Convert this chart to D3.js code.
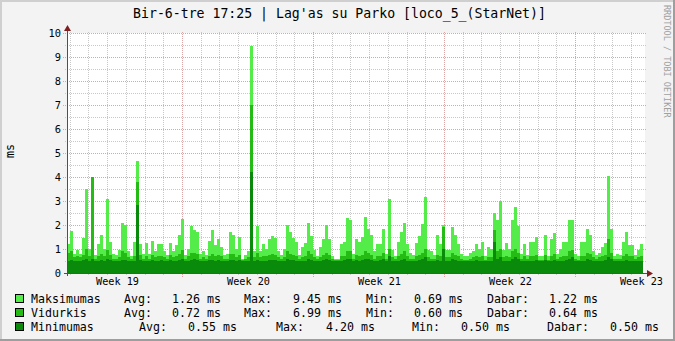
<!DOCTYPE html>
<html>
<head>
<meta charset="utf-8">
<script src="https://cdn.jsdelivr.net/npm/d3@7"></script>
<style>
  body { margin: 0; background: #fff; }
  svg { display: block; }
</style>
</head>
<body>
<div id="chart"></div>
<script>
const title = "Bir-6-tre 17:25 | Lag'as su Parko [loco_5_(StarNet)]"
const yLabel = 'ms'
const watermark = 'RRDTOOL / TOBI OETIKER'
const yTicks = [0, 1, 2, 3, 4, 5, 6, 7, 8, 9, 10]
const weekStarts = ['2012-05-06', '2012-05-13', '2012-05-20', '2012-05-27', '2012-06-03']
const weekLabels = ['Week 19', 'Week 20', 'Week 21', 'Week 22', 'Week 23']
const timeStart = '2012-05-06T20:30:00Z'
const timeEnd = '2012-06-06T15:15:00Z'

const seriesNames = ['Maksimumas', 'Vidurkis', 'Minimumas']
const seriesColors = ['#54ec48', '#24bc14', '#0a8a0a']

// ms, one value per step
const maxValues = [
  1.2, 1.75, 0.8, 0.95, 0.8, 1.45, 3.5, 1.0, 4.0, 0.75, 1.2, 1.6, 1.0, 3.1, 1.3, 0.8,
  0.75, 0.95, 2.1, 2.0, 0.9, 0.7, 1.3, 4.65, 1.2, 0.8, 1.25, 0.8, 1.35, 0.9, 1.2, 1.2,
  0.9, 0.75, 1.25, 0.9, 1.15, 1.6, 2.25, 0.75, 1.0, 1.95, 1.8, 1.7, 0.8, 0.9, 0.75, 1.35,
  1.8, 1.15, 1.4, 1.1, 0.75, 0.8, 1.7, 1.6, 1.0, 1.5, 0.6, 0.75, 0.9, 9.45, 0.9, 1.95,
  0.9, 1.2, 1.0, 1.4, 1.55, 1.45, 0.9, 0.75, 1.0, 2.0, 1.7, 1.45, 1.3, 0.75, 1.1, 1.25,
  2.1, 1.55, 0.95, 0.7, 1.1, 1.4, 2.0, 1.4, 0.7, 0.6, 0.6, 1.2, 1.3, 2.3, 2.2, 0.8,
  1.4, 1.3, 1.5, 2.35, 1.85, 1.6, 0.9, 1.2, 1.2, 1.85, 0.8, 3.1, 0.95, 0.7, 1.3, 1.7,
  2.1, 1.2, 0.85, 0.75, 1.25, 1.55, 2.05, 3.15, 0.95, 0.9, 0.75, 1.6, 1.2, 2.0, 0.95, 0.95,
  1.9, 1.6, 1.2, 0.8, 0.7, 0.7, 0.85, 0.9, 1.2, 1.0, 1.3, 0.7, 1.1, 1.0, 2.5, 2.2,
  3.0, 0.95, 1.25, 1.0, 2.2, 2.75, 1.95, 0.8, 1.2, 0.75, 1.3, 1.3, 1.5, 0.7, 0.7, 1.6,
  0.7, 1.4, 1.65, 0.8, 1.0, 1.3, 1.3, 2.2, 2.2, 0.8, 0.7, 1.3, 1.3, 1.85, 1.6, 0.9,
  0.75, 0.85, 1.1, 1.25, 4.05, 1.85, 0.7, 0.8, 0.75, 1.3, 1.7, 1.15, 1.15, 0.75, 0.95, 1.2
]
const avgValues = [
  0.85, 0.9, 0.65, 0.7, 0.65, 0.75, 1.0, 0.7, 4.0, 0.6, 0.7, 0.8, 0.7, 0.95, 0.75, 0.6,
  0.6, 0.65, 0.9, 0.85, 0.65, 0.6, 0.7, 3.8, 0.75, 0.6, 0.7, 0.6, 0.75, 0.65, 0.7, 0.7,
  0.65, 0.6, 0.75, 0.65, 0.7, 0.8, 0.95, 0.6, 0.7, 0.85, 0.85, 0.8, 0.6, 0.65, 0.6, 0.7,
  0.8, 0.7, 0.75, 0.7, 0.6, 0.6, 0.8, 0.8, 0.65, 0.75, 0.55, 0.6, 0.65, 6.99, 0.65, 0.85,
  0.65, 0.7, 0.7, 0.75, 0.8, 0.75, 0.65, 0.6, 0.65, 0.9, 0.8, 0.75, 0.7, 0.6, 0.65, 0.7,
  0.9, 0.8, 0.65, 0.6, 0.65, 0.75, 0.85, 0.75, 0.6, 0.55, 0.55, 0.7, 0.7, 0.9, 0.9, 0.6,
  0.75, 0.7, 0.75, 0.9, 0.85, 0.75, 0.6, 0.7, 0.7, 0.85, 0.6, 1.0, 0.65, 0.6, 0.7, 0.8,
  0.9, 0.7, 0.6, 0.6, 0.7, 0.75, 0.85, 1.0, 0.65, 0.6, 0.6, 0.75, 0.7, 1.9, 0.65, 0.65,
  0.85, 0.75, 0.7, 0.6, 0.55, 0.55, 0.6, 0.65, 0.7, 0.65, 0.7, 0.55, 0.65, 0.65, 1.8, 0.9,
  1.0, 0.65, 0.7, 0.65, 0.9, 1.0, 0.85, 0.6, 0.7, 0.6, 0.7, 0.7, 0.75, 0.55, 0.55, 0.75,
  0.55, 0.7, 0.8, 0.6, 0.65, 0.7, 0.7, 0.9, 0.95, 0.6, 0.55, 0.7, 0.7, 0.85, 0.8, 0.65,
  0.6, 0.65, 0.7, 0.75, 1.4, 0.85, 0.6, 0.6, 0.6, 0.7, 0.8, 0.7, 0.7, 0.6, 0.65, 0.7
]
const minValues = [
  0.5, 0.55, 0.5, 0.5, 0.5, 0.55, 0.6, 0.5, 0.6, 0.5, 0.5, 0.55, 0.5, 0.6, 0.55, 0.5,
  0.5, 0.5, 0.55, 0.55, 0.5, 0.5, 0.5, 2.85, 0.55, 0.5, 0.5, 0.5, 0.55, 0.5, 0.5, 0.55,
  0.5, 0.5, 0.55, 0.5, 0.5, 0.55, 0.6, 0.5, 0.5, 0.55, 0.6, 0.55, 0.5, 0.5, 0.5, 0.55,
  0.55, 0.5, 0.55, 0.5, 0.5, 0.5, 0.55, 0.55, 0.5, 0.55, 0.5, 0.5, 0.5, 4.2, 0.5, 0.55,
  0.5, 0.5, 0.5, 0.55, 0.55, 0.55, 0.5, 0.5, 0.5, 0.6, 0.55, 0.55, 0.5, 0.5, 0.5, 0.5,
  0.6, 0.55, 0.5, 0.5, 0.5, 0.55, 0.6, 0.55, 0.5, 0.5, 0.5, 0.5, 0.55, 0.6, 0.6, 0.5,
  0.55, 0.5, 0.55, 0.6, 0.6, 0.55, 0.5, 0.5, 0.55, 0.6, 0.5, 0.7, 0.5, 0.5, 0.5, 0.55,
  0.6, 0.5, 0.5, 0.5, 0.5, 0.55, 0.6, 0.65, 0.5, 0.5, 0.5, 0.55, 0.5, 1.0, 0.5, 0.5,
  0.6, 0.55, 0.5, 0.5, 0.5, 0.5, 0.5, 0.5, 0.55, 0.5, 0.5, 0.5, 0.5, 0.5, 1.3, 0.6,
  0.65, 0.5, 0.5, 0.5, 0.6, 0.65, 0.6, 0.5, 0.5, 0.5, 0.5, 0.5, 0.55, 0.5, 0.5, 0.55,
  0.5, 0.5, 0.55, 0.5, 0.5, 0.5, 0.55, 0.6, 0.65, 0.5, 0.5, 0.5, 0.5, 0.6, 0.55, 0.5,
  0.5, 0.5, 0.5, 0.55, 0.65, 0.6, 0.5, 0.5, 0.5, 0.5, 0.55, 0.5, 0.5, 0.5, 0.5, 0.5
]

// legend: Avg, Max, Min, Dabar per series (ms)
const legendAvg = ['1.26', '0.72', '0.55']
const legendMax = ['9.45', '6.99', '4.20']
const legendMin = ['0.69', '0.60', '0.50']
const legendNow = ['1.22', '0.64', '0.50']

const W = 675, H = 341
const plot = { left: 67, right: 643, top: 33, bottom: 273 }
const mono = 'DejaVu Sans Mono, monospace'

const svg = d3.select('#chart').append('svg')
  .attr('width', W)
  .attr('height', H)

// canvas with rrd-style shade
svg.append('rect').attr('width', W).attr('height', H).attr('fill', '#f3f3f3')
svg.append('path').attr('d', `M0,0H${W}V2H2V${H}H0Z`).attr('fill', '#cfcfcf')
svg.append('path').attr('d', `M${W},${H}H0V${H - 2}H${W - 2}V0H${W}Z`).attr('fill', '#9e9e9e')

svg.append('rect')
  .attr('x', plot.left).attr('y', plot.top)
  .attr('width', 645 - plot.left).attr('height', plot.bottom - plot.top)
  .attr('fill', '#ffffff')

const x = d3.scaleUtc()
  .domain([new Date(timeStart), new Date(timeEnd)])
  .range([plot.left, plot.right])
const y = d3.scaleLinear().domain([0, 10]).range([plot.bottom, plot.top])

// grid, under the data
const grid = svg.append('g').attr('shape-rendering', 'crispEdges').attr('stroke-dasharray', '1,1')
const halfTicks = d3.range(0.5, 10, 1)
grid.selectAll('line.hmin').data(halfTicks).join('line')
  .attr('x1', plot.left - 2).attr('x2', 646)
  .attr('y1', d => Math.round(y(d)) + 0.5).attr('y2', d => Math.round(y(d)) + 0.5)
  .attr('stroke', '#c8c8c8')
grid.selectAll('line.hmaj').data(yTicks.filter(d => d > 0)).join('line')
  .attr('x1', plot.left - 4).attr('x2', 646)
  .attr('y1', d => Math.round(y(d)) + 0.5).attr('y2', d => Math.round(y(d)) + 0.5)
  .attr('stroke', '#dca4a4')

const sundays = d3.utcSunday.range(x.domain()[0], x.domain()[1])
const days = d3.utcDay.range(x.domain()[0], x.domain()[1]).filter(d => d.getUTCDay() !== 0)
grid.selectAll('line.vmin').data(days).join('line')
  .attr('x1', d => Math.round(x(d)) + 0.5).attr('x2', d => Math.round(x(d)) + 0.5)
  .attr('y1', plot.top - 1).attr('y2', plot.bottom + 2)
  .attr('stroke', '#c8c8c8')
grid.selectAll('line.vmaj').data(sundays).join('line')
  .attr('x1', d => Math.round(x(d)) + 0.5).attr('x2', d => Math.round(x(d)) + 0.5)
  .attr('y1', plot.top - 1).attr('y2', plot.bottom + 4)
  .attr('stroke', '#dca4a4')

const n = maxValues.length
const t0 = +x.domain()[0], t1 = +x.domain()[1]
const stepTime = i => new Date(t0 + i * (t1 - t0) / n)

const area = d3.area()
  .curve(d3.curveStepAfter)
  .x((d, i) => x(stepTime(i)))
  .y0(y(0))
  .y1(d => y(d))

const g = svg.append('g').attr('shape-rendering', 'crispEdges')
;[maxValues, avgValues, minValues].forEach((vals, k) => {
  g.append('path')
    .attr('d', area(vals.concat([vals[vals.length - 1]])))
    .attr('fill', seriesColors[k])
})

// axes
const axis = svg.append('g').attr('shape-rendering', 'crispEdges')
axis.append('line')
  .attr('x1', plot.left - 3).attr('x2', 648)
  .attr('y1', plot.bottom + 0.5).attr('y2', plot.bottom + 0.5)
  .attr('stroke', '#505050')
axis.append('line')
  .attr('x1', plot.left + 0.5).attr('x2', plot.left + 0.5)
  .attr('y1', plot.bottom + 3).attr('y2', 29)
  .attr('stroke', '#505050')
svg.append('path')
  .attr('d', `M${plot.left + 0.5},25L${plot.left + 4},31H${plot.left - 3}Z`)
  .attr('fill', '#7f1f1f')
svg.append('path')
  .attr('d', `M653,${plot.bottom + 0.5}L647,${plot.bottom - 3}V${plot.bottom + 4}Z`)
  .attr('fill', '#7f1f1f')

// y tick labels
svg.append('g').selectAll('text').data(yTicks).join('text')
  .attr('x', 61)
  .attr('y', d => y(d) + 4)
  .attr('text-anchor', 'end')
  .attr('font-family', mono)
  .attr('font-size', 10.4)
  .attr('fill', '#000')
  .text(d => d)

// week labels
svg.append('g').selectAll('text').data(weekStarts).join('text')
  .attr('x', d => x(d3.utcHour.offset(new Date(d + 'T00:00:00Z'), 84)) + 1)
  .attr('y', 285)
  .attr('text-anchor', 'middle')
  .attr('font-family', mono)
  .attr('font-size', 10.2)
  .attr('fill', '#000')
  .text((d, i) => weekLabels[i])

// title
svg.append('text')
  .attr('x', 339.5).attr('y', 18)
  .attr('text-anchor', 'middle')
  .attr('font-family', mono)
  .attr('font-size', 13.2)
  .attr('fill', '#000')
  .text(title)

svg.append('text')
  .attr('transform', 'translate(14,151) rotate(-90)')
  .attr('text-anchor', 'middle')
  .attr('font-family', mono)
  .attr('font-size', 11.6)
  .attr('fill', '#000')
  .text(yLabel)

svg.append('text')
  .attr('transform', 'translate(663.5,5) rotate(90)')
  .attr('font-family', mono)
  .attr('font-size', 8.5)
  .attr('fill', '#a0a0a0')
  .text(watermark)

// legend
const rowY = [303, 317, 331]
const cols = [
  [124, 172, 244, 293, 366, 414, 487, 549],
  [124, 172, 244, 293, 366, 414, 487, 549],
  [139, 188, 276, 326, 412, 461, 547, 610]
]
const legend = svg.append('g')
  .attr('font-family', mono)
  .attr('font-size', 11.6)
  .attr('fill', '#000')
seriesNames.forEach((name, k) => {
  const yy = rowY[k]
  legend.append('rect')
    .attr('x', 15.5).attr('y', yy - 8.5)
    .attr('width', 8).attr('height', 8)
    .attr('fill', seriesColors[k])
    .attr('stroke', '#000')
    .attr('shape-rendering', 'crispEdges')
  const parts = [
    'Avg:', legendAvg[k] + ' ms',
    'Max:', legendMax[k] + ' ms',
    'Min:', legendMin[k] + ' ms',
    'Dabar:', legendNow[k] + ' ms'
  ]
  legend.append('text').attr('x', 31).attr('y', yy).text(name)
  parts.forEach((p, j) => {
    legend.append('text').attr('x', cols[k][j]).attr('y', yy).text(p)
  })
})
</script>
</body>
</html>
